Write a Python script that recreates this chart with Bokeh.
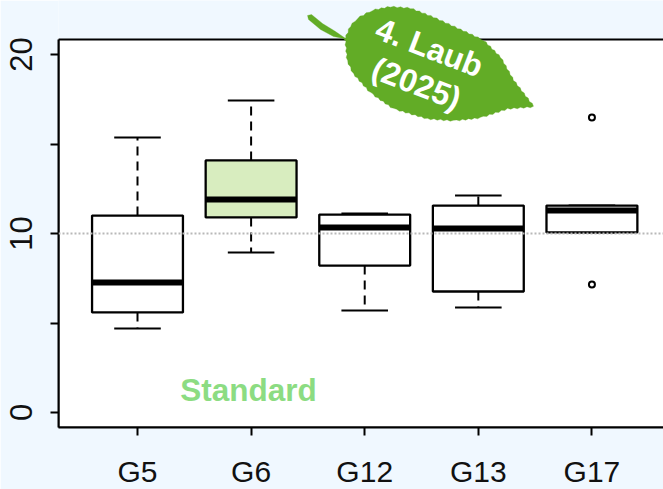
import numpy as np
from bokeh.embed import file_html
from bokeh.models import BoxAnnotation, FixedTicker, Label, LinearAxis, PolyAnnotation, Range1d, Span
from bokeh.plotting import figure
from bokeh.resources import INLINE

groups = ["G5", "G6", "G12", "G13", "G17"]
positions = [1, 2, 3, 4, 5]
whisker_low = [4.69, 8.94, 5.70, 5.87, 10.06]
q1 = [5.59, 10.90, 8.21, 6.76, 10.06]
median = [7.26, 11.90, 10.34, 10.28, 11.28]
q3 = [11.00, 14.08, 11.06, 11.56, 11.56]
whisker_high = [15.36, 17.43, 11.12, 12.12, 11.56]
fills = ["#ffffff", "#d8edbf", "#ffffff", "#ffffff", "#ffffff"]
outlier_x = [5, 5]
outlier_y = [16.48, 7.15]
y_ticks = [0, 5, 10, 15, 20]
y_labels = {0: "0", 5: "", 10: "10", 15: "", 20: "20"}
reference_level = 10

BG = "#f0f8ff"
LEAF = "#62ac26"
FONT = "Liberation Sans"
BOX_W = 0.8
CAP_W = 0.41
Y_LOW, Y_BOX_TOP, Y_TOP = -0.838, 20.84, 23.017
X_LOW, X_HIGH = 0.3046, 5.63

p = figure(width=663, height=489, frame_width=605, frame_height=427,
           output_backend="svg", toolbar_location=None,
           x_range=Range1d(X_LOW, X_HIGH), y_range=Range1d(Y_LOW, Y_TOP),
           min_border_left=58, min_border_right=0, min_border_top=0, min_border_bottom=62,
           x_axis_location=None, y_axis_location=None,
           background_fill_color=BG, border_fill_color=BG)
p.outline_line_color = None
p.grid.visible = False

p.add_layout(BoxAnnotation(left=X_LOW, right=X_HIGH + 1, bottom=Y_LOW, top=Y_BOX_TOP,
                           fill_color="#ffffff", fill_alpha=1.0, line_color="#000000",
                           line_alpha=1.0, line_width=2, level="underlay", editable=False))

x_axis = LinearAxis(ticker=FixedTicker(ticks=positions),
                    major_label_overrides={k: v for k, v in zip(positions, groups)})
y_axis = LinearAxis(ticker=FixedTicker(ticks=y_ticks), major_label_overrides=y_labels,
                    major_label_orientation="vertical", bounds=(Y_LOW, Y_BOX_TOP))
for ax in (x_axis, y_axis):
    ax.axis_line_width = 2
    ax.axis_line_color = "#000000"
    ax.major_tick_line_width = 2
    ax.major_tick_line_color = "#000000"
    ax.major_tick_in = 0
    ax.major_tick_out = 8
    ax.minor_tick_line_color = None
    ax.major_label_text_font = FONT
    ax.major_label_text_font_size = "30px"
    ax.major_label_text_color = "#111111"
    ax.major_label_text_line_height = 0.8
y_axis.major_label_text_font_size = "31px"
x_axis.major_label_standoff = 19
y_axis.major_label_standoff = 18
p.add_layout(x_axis, "below")
p.add_layout(y_axis, "left")

# whiskers and caps
p.segment(positions, q3, positions, whisker_high, line_color="#000000", line_width=2, line_dash="9 6")
p.segment(positions, q1, positions, whisker_low, line_color="#000000", line_width=2, line_dash="9 6")
caps_l = [x - CAP_W / 2 for x in positions]
caps_r = [x + CAP_W / 2 for x in positions]
p.segment(caps_l, whisker_high, caps_r, whisker_high, line_color="#000000", line_width=2)
p.segment(caps_l, whisker_low, caps_r, whisker_low, line_color="#000000", line_width=2)
# boxes and medians
p.vbar(x=positions, width=BOX_W, bottom=q1, top=q3, fill_color=fills,
       line_color="#000000", line_width=2.3)
p.segment([x - BOX_W / 2 for x in positions], median, [x + BOX_W / 2 for x in positions], median,
          line_color="#000000", line_width=6)
p.scatter(outlier_x, outlier_y, size=6, fill_color="#ffffff", line_color="#000000", line_width=2)
p.add_layout(Span(location=reference_level, dimension="width", line_color="#b8b8b8",
                  line_width=2, line_dash="2 2"))

# leaf decoration
edge = [(345, 38), (350, 26), (357, 18), (372, 10), (390, 6.5), (410, 8), (433, 17), (457, 28),
        (483, 40), (500, 57), (513, 80), (533, 106), (507, 108), (480, 117), (453, 120),
        (427, 118), (393, 108), (370, 92), (353, 73), (347, 60), (345, 38)]
stem = [(343, 38), (333, 36), (320, 29), (308, 19), (307, 15), (311, 14), (322, 23), (335, 31)]
lx, ly = [], []
for (x0, y0), (x1, y1) in zip(edge[:-1], edge[1:]):
    length = np.hypot(x1 - x0, y1 - y0)
    n = max(1, int(length / 3))
    for i in range(n):
        t = i / n
        nudge = 1.0 if i % 2 else -0.2
        lx.append(x0 + (x1 - x0) * t + (y1 - y0) / length * nudge)
        ly.append(y0 + (y1 - y0) * t - (x1 - x0) / length * nudge)
lx += [pt[0] for pt in stem]
ly += [pt[1] for pt in stem]
p.add_layout(PolyAnnotation(xs=lx, ys=ly, xs_units="canvas", ys_units="canvas",
                            fill_color=LEAF, fill_alpha=1.0, line_color=LEAF, line_width=1,
                            level="annotation", editable=False))

for txt, cx, cy in [("4. Laub", 429, 47), ("(2025)", 416, 83)]:
    p.add_layout(Label(x=cx, y=cy, x_units="canvas", y_units="canvas", text=txt, angle=-21,
                       angle_units="deg", text_align="center", text_baseline="middle",
                       text_color="#ffffff", text_font=FONT, text_font_style="bold",
                       text_font_size="32px", level="annotation"))
p.add_layout(Label(x=248, y=389, x_units="canvas", y_units="canvas", text="Standard",
                   text_align="center", text_baseline="middle", text_color="#8cdc82",
                   text_font=FONT, text_font_style="bold", text_font_size="31.5px"))

open("out.html", "w").write(file_html(p, INLINE))
